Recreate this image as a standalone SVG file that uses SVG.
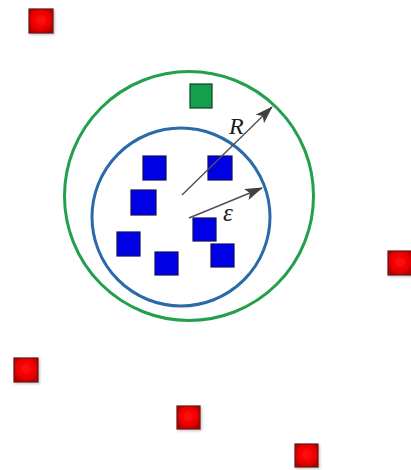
<svg xmlns="http://www.w3.org/2000/svg" width="411" height="470" viewBox="0 0 411 470">
<defs>
<radialGradient id="rg" cx="0.5" cy="0.45" r="0.6">
<stop offset="0" stop-color="#ff1010"/>
<stop offset="0.6" stop-color="#f00000"/>
<stop offset="1" stop-color="#b00000"/>
</radialGradient>
<marker id="ah" viewBox="0 0 18 12" refX="17" refY="6" markerWidth="18" markerHeight="12" markerUnits="userSpaceOnUse" orient="auto">
<path d="M0,0 L18,6 L0,12 L4,6 Z" fill="#404040"/>
</marker>
<filter id="sh" x="-20%" y="-20%" width="150%" height="150%">
<feDropShadow dx="1.5" dy="1.5" stdDeviation="1" flood-color="#000" flood-opacity="0.2"/>
</filter>
</defs>
<style>
.red{fill:url(#rg);stroke:#6a1010;stroke-width:1.2;filter:url(#sh)}
.blue{fill:#0000e6;stroke:#101060;stroke-width:1.2}
.green{fill:#12a04c;stroke:#104020;stroke-width:1.2}
.arr{stroke:#505050;stroke-width:1.4;fill:none;marker-end:url(#ah)}
.lbl{font-family:"Liberation Serif",serif;font-style:italic;fill:#1a1a1a}
</style>
<rect width="411" height="470" fill="#ffffff"/>
<g id="circles">
<circle id="outer" cx="189" cy="196" r="124.5" fill="none" stroke="#22a04c" stroke-width="3"/>
<circle id="inner" cx="181" cy="217" r="89" fill="none" stroke="#2a6aa8" stroke-width="3"/>
</g>
<g id="red-nodes">
<rect id="r1" class="red" x="29" y="9" width="24" height="24"/>
<rect id="r2" class="red" x="388" y="251" width="24" height="24"/>
<rect id="r3" class="red" x="14" y="358" width="24" height="24"/>
<rect id="r4" class="red" x="177" y="406" width="23" height="23"/>
<rect id="r5" class="red" x="295" y="444" width="23" height="23"/>
</g>
<g id="green-node">
<rect id="g1" class="green" x="190" y="84" width="22" height="24"/>
</g>
<g id="blue-nodes">
<rect id="b1" class="blue" x="143" y="156" width="23" height="24"/>
<rect id="b2" class="blue" x="208" y="156" width="24" height="24"/>
<rect id="b3" class="blue" x="131" y="190" width="25" height="25"/>
<rect id="b4" class="blue" x="117" y="232" width="23" height="24"/>
<rect id="b5" class="blue" x="155" y="252" width="23" height="23"/>
<rect id="b6" class="blue" x="193" y="218" width="23" height="23"/>
<rect id="b7" class="blue" x="211" y="244" width="23" height="23"/>
</g>
<g id="connectors">
<line class="arr" x1="182" y1="195" x2="272" y2="107"/>
<line class="arr" x1="189" y1="218" x2="262" y2="188"/>
</g>
<g id="labels">
<text class="lbl" x="229" y="134" font-size="24">R</text>
<text class="lbl" x="223" y="221" font-size="25">ε</text>
</g>
</svg>
